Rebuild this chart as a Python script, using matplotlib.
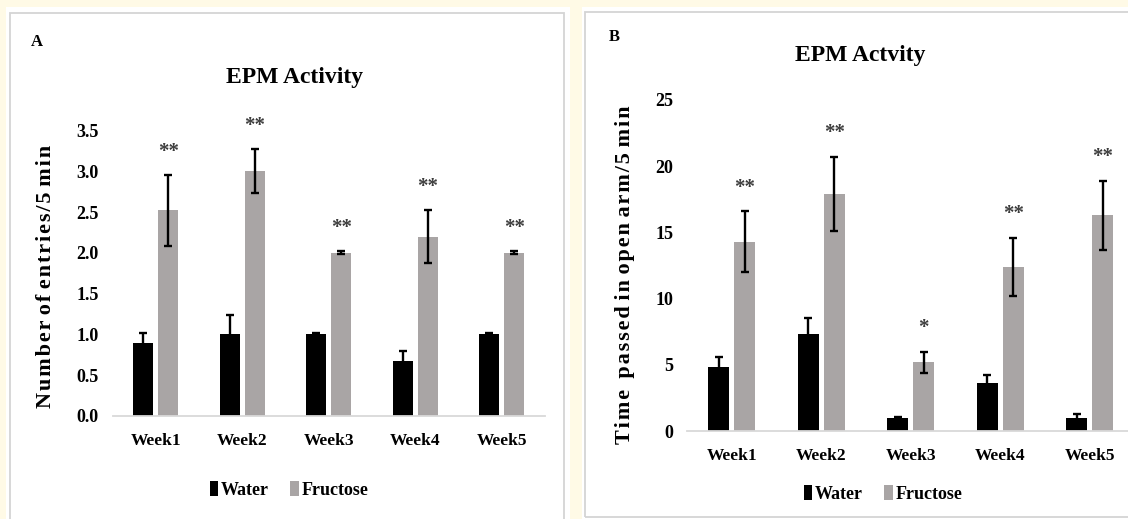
import matplotlib
matplotlib.use("Agg")
import matplotlib.pyplot as plt
import numpy as np
from matplotlib.patches import Rectangle

W, H = 1128, 519

weeks = ["Week1", "Week2", "Week3", "Week4", "Week5"]

# panel A - number of entries / 5 min
entries_water = [0.90, 1.00, 1.00, 0.68, 1.00]
entries_water_err = [0.12, 0.24, 0.02, 0.12, 0.02]
entries_fruc = [2.52, 3.00, 2.00, 2.20, 2.00]
entries_fruc_err = [0.43, 0.27, 0.02, 0.32, 0.02]
entries_stars = ["**", "**", "**", "**", "**"]

# panel B - time passed in open arm / 5 min
time_water = [4.8, 7.3, 1.0, 3.6, 1.0]
time_water_err = [0.8, 1.2, 0.08, 0.6, 0.3]
time_fruc = [14.3, 17.9, 5.2, 12.4, 16.3]
time_fruc_err = [2.3, 2.8, 0.8, 2.2, 2.6]
time_stars = ["**", "**", "*", "**", "**"]

serif = ["Liberation Serif", "DejaVu Serif"]
plt.rcParams["font.family"] = serif

c_water = "#000000"
c_fruc = "#a9a5a5"
c_border = "#d4d4d4"


def fx(x):
    return x / W


def fy(y):
    return 1 - y / H


def spaced(s):
    # the original axis titles are letter-spaced (not around word gaps)
    out = s[0]
    for a, b in zip(s[:-1], s[1:]):
        if a != " " and b != " ":
            out += "\u200a"
        out += b
    return out


def panel(fig, x0, y0, x1, y1, bx0, by0, bx1, by1):
    fig.add_artist(Rectangle((fx(x0), fy(y1)), fx(x1) - fx(x0), fy(y0) - fy(y1),
                             transform=fig.transFigure, facecolor="white",
                             edgecolor="none", zorder=0))
    fig.add_artist(Rectangle((fx(bx0), fy(by1)), fx(bx1) - fx(bx0), fy(by0) - fy(by1),
                             transform=fig.transFigure, facecolor="none",
                             edgecolor=c_border, lw=1.3, zorder=1))


def draw(ax, water, werr, fruc, ferr, stars, ymax, ystep, fmt, leg_xy):
    x = np.arange(len(weeks))
    bw = 0.23
    off = 0.145
    ek = dict(ecolor="black", elinewidth=1.7, capsize=3.2, capthick=1.7)
    b1 = ax.bar(x - off, water, bw, yerr=werr, color=c_water, error_kw=ek, label="Water")
    b2 = ax.bar(x + off, fruc, bw, yerr=ferr, color=c_fruc, error_kw=ek, label="Fructose")
    for i in range(len(x)):
        ax.annotate(stars[i], xy=(x[i] + off, fruc[i] + ferr[i]), xytext=(0, 17),
                    textcoords="offset points", ha="center", va="center",
                    fontsize=15, fontweight="bold", color="#3c3c3c")
    ax.set_xlim(-0.5, len(x) - 0.5)
    ax.set_ylim(0, ymax)
    ax.set_xticks(x)
    ax.set_xticklabels(weeks, fontsize=12.5, fontweight="bold")
    ticks = np.arange(0, ymax + ystep / 2, ystep)
    ax.set_yticks(ticks)
    ax.set_yticklabels([fmt % t for t in ticks], fontsize=13, fontweight="bold")
    ax.tick_params(axis="both", length=0)
    ax.tick_params(axis="x", pad=12)
    ax.tick_params(axis="y", pad=10)
    for s in ["left", "right", "top"]:
        ax.spines[s].set_visible(False)
    ax.spines["bottom"].set_color("#d9d9d9")
    ax.spines["bottom"].set_linewidth(1.3)
    ax.patch.set_alpha(0)
    ax.legend([b1, b2], ["Water", "Fructose"], loc="center",
              bbox_to_anchor=(fx(leg_xy[0]), fy(leg_xy[1])), bbox_transform=fig.transFigure,
              ncol=2, frameon=False, prop=dict(family=serif, weight="bold", size=13),
              handlelength=0.45, handleheight=0.85, handletextpad=0.15, columnspacing=1.2)


fig = plt.figure(figsize=(W / 100, H / 100), dpi=100, facecolor="#fffae6")

panel(fig, 6, 7, 570, 530, 10, 13, 564, 530)
panel(fig, 582, 7, 1140, 530, 585, 12, 1140, 517)

ax1 = fig.add_axes([fx(112.5), fy(416), 432.5 / W, 285.5 / H])
draw(ax1, entries_water, entries_water_err, entries_fruc, entries_fruc_err,
     entries_stars, 3.5, 0.5, "%.1f", (289, 490))

ax2 = fig.add_axes([fx(687), fy(431), 447.5 / W, 331 / H])
draw(ax2, time_water, time_water_err, time_fruc, time_fruc_err,
     time_stars, 25, 5, "%d", (883, 494))

fig.text(fx(295), fy(77), "EPM Activity", fontsize=17, fontweight="bold", ha="center", va="center")
fig.text(fx(860), fy(55), "EPM Actvity", fontsize=17, fontweight="bold", ha="center", va="center")
fig.text(fx(37), fy(42), "A", fontsize=12, fontweight="bold", ha="center", va="center")
fig.text(fx(614), fy(37), "B", fontsize=12, fontweight="bold", ha="center", va="center")

fig.text(fx(46), fy(276), spaced("Number of entries/5 min"), rotation=90,
         fontsize=16, fontweight="bold", ha="center", va="center")
fig.text(fx(625), fy(275), spaced("Time  passed in open arm/5 min"), rotation=90,
         fontsize=16, fontweight="bold", ha="center", va="center")

fig.savefig("out.png", dpi=100, facecolor=fig.get_facecolor())
